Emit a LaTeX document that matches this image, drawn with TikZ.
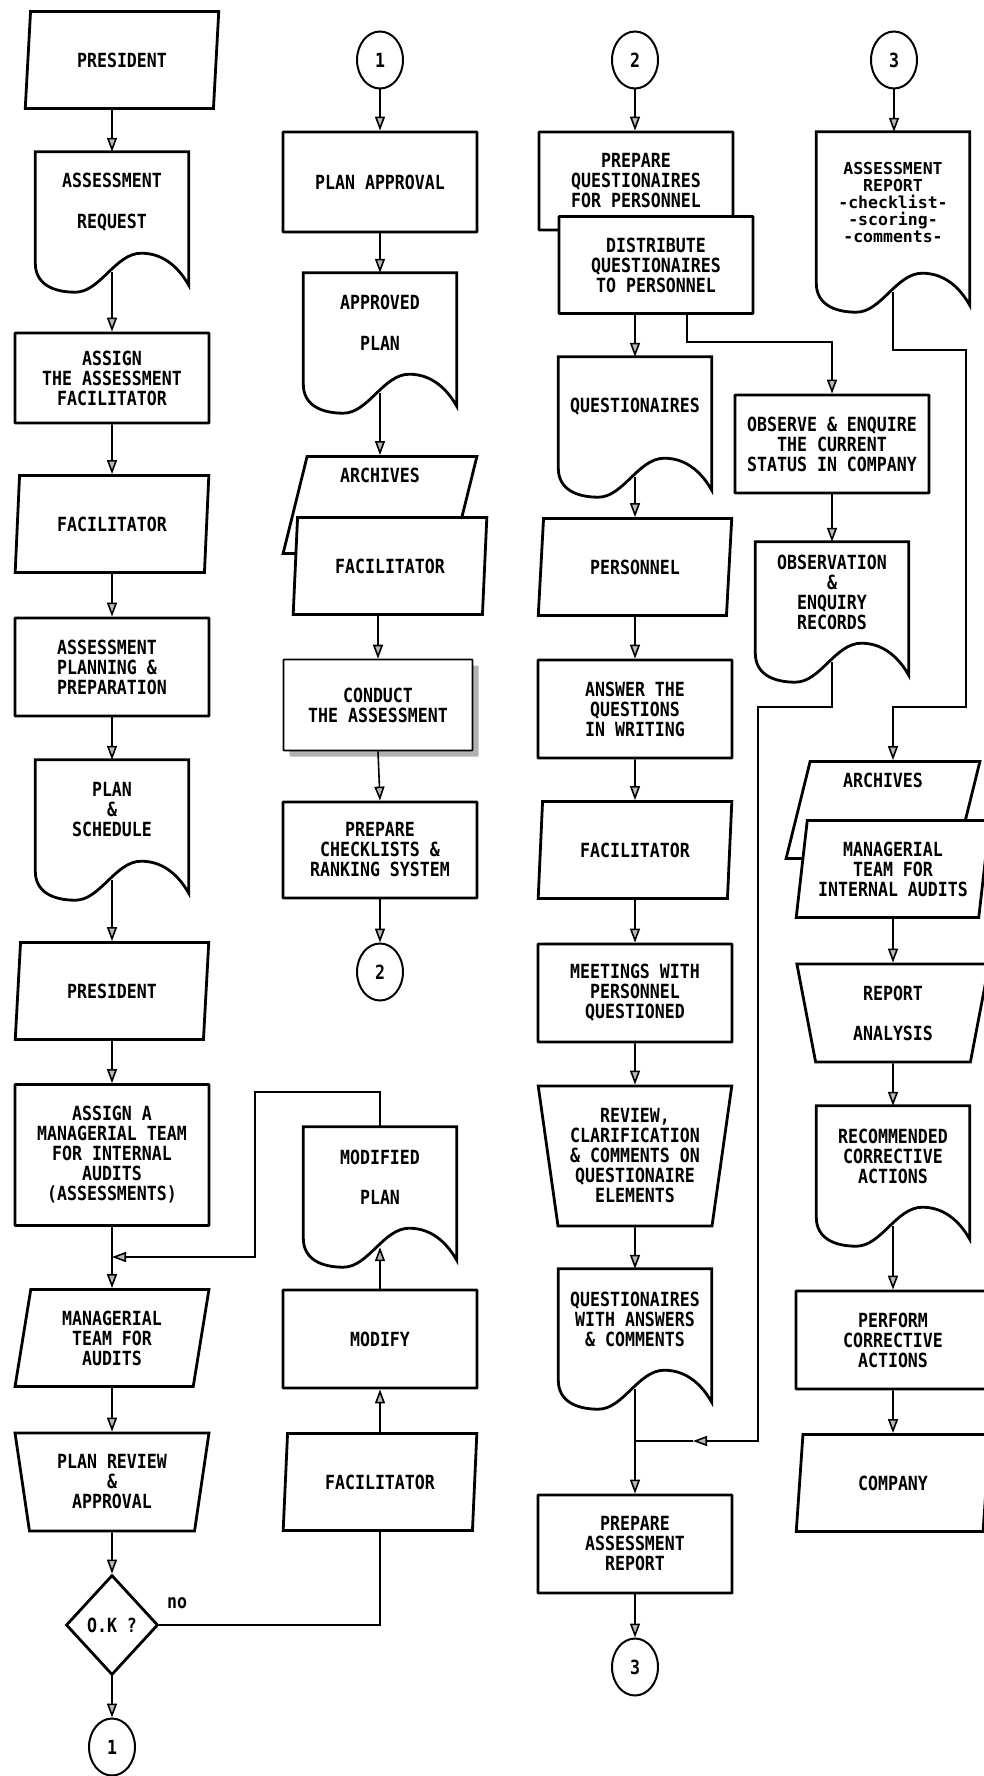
\documentclass[tikz,border=0pt]{standalone}
\usepackage{fontspec}
\newfontfamily\flowfont[FakeStretch=0.85]{DejaVu Sans Mono}
\newfontfamily\reportfont[FakeStretch=1.0]{DejaVu Sans Mono}
\usetikzlibrary{shapes.geometric,arrows.meta,calc,shadows}

\tikzset{
  shapeline/.style={draw=black, line width=2.8pt, fill=white},
  flowtext/.style={font=\flowfont\bfseries\fontsize{19.5}{20}\selectfont, align=center},
  procbox/.style={shapeline, flowtext, rectangle, rounded corners=0.5pt, minimum width=194pt, minimum height=98pt,
    inner sep=0pt, line width=2.8pt},
  iobox/.style={shapeline, flowtext, trapezium, trapezium left angle=80, trapezium right angle=100,
    trapezium stretches=true, minimum width=194pt, minimum height=97pt, inner sep=0pt},
  manbox/.style={shapeline, flowtext, trapezium, trapezium left angle=100, trapezium right angle=100,
    trapezium stretches=true, minimum width=194pt, minimum height=98pt, inner sep=0pt},
  docbox/.style={flowtext, rectangle, minimum width=153pt, minimum height=100pt, inner sep=0pt},
  linkcircle/.style={draw, line width=2pt, ellipse, minimum width=46pt, minimum height=57pt,
    inner sep=0pt, flowtext},
  decision/.style={shapeline, diamond, minimum width=92pt, minimum height=100pt, inner sep=0pt, flowtext},
  flow/.style={line width=1.6pt},
  arr/.style={flow, -{Triangle[length=14pt, width=10pt, fill=gray!55]}},
}
\newcommand{\docframe}[1]{%
  \draw[shapeline, fill=none] (#1.north west) -- (#1.north east) -- ($(#1.south east)+(0,33)$)
    .. controls ($(#1.south west)+(145,18)$) and ($(#1.south west)+(130,1)$) .. ($(#1.south west)+(106,1)$)
    .. controls ($(#1.south west)+(80,1)$) and ($(#1.south west)+(65,40)$) .. ($(#1.south west)+(40,40)$)
    .. controls ($(#1.south west)+(18,40)$) and ($(#1.south west)+(0,32)$) .. ($(#1.south west)+(0,11)$) -- cycle;
  \coordinate (#1-out) at ($(#1.south)+(0,20)$);}

\begin{document}
\begin{tikzpicture}[x=1pt, y=-1pt]
    \useasboundingbox (0,0) rectangle (984,1776);

    \node[iobox] (pres1) at (122,60) {PRESIDENT};
    \node[docbox] (req) at (112,202) {ASSESSMENT\\[21pt]REQUEST};
    \docframe{req}
    \node[procbox, minimum height=90pt] (assign1) at (112,378) {ASSIGN\\THE ASSESSMENT\\FACILITATOR};
    \node[iobox] (fac1) at (112,524) {FACILITATOR};
    \node[procbox, align=left] (plan1) at (112,667) {ASSESSMENT\\PLANNING \&\\PREPARATION};
    \node[docbox] (sched) at (112,810) {PLAN\\\&\\SCHEDULE};
    \docframe{sched}
    \node[iobox] (pres2) at (112,991) {PRESIDENT};
    \node[procbox, minimum height=141pt] (assign2) at (112,1155) {ASSIGN A\\MANAGERIAL TEAM\\FOR INTERNAL\\AUDITS\\(ASSESSMENTS)};
    \node[iobox] (mteam) at (112,1338) {MANAGERIAL\\TEAM FOR\\AUDITS};
    \node[manbox] (review) at (112,1482) {PLAN REVIEW\\\&\\APPROVAL};
    \node[decision] (ok) at (112,1625) {O.K ?};
    \node[linkcircle] (con1b) at (112,1747) {1};
    \node[flowtext] (nolbl) at (177,1603) {no};

    \node[linkcircle] (con1a) at (380,60) {1};
    \node[procbox, minimum height=100pt] (approval) at (380,182) {PLAN APPROVAL};
    \node[docbox] (approved) at (380,323) {APPROVED\\[21pt]PLAN};
    \docframe{approved}
    \node[iobox] (archives1) at (380,505) {ARCHIVES\\[40pt]};
    \node[iobox] (fac2) at (390,566) {FACILITATOR};
    \node[procbox, minimum width=189pt, minimum height=91pt, line width=1.6pt,
      drop shadow={shadow xshift=6pt, shadow yshift=-6pt, fill=gray!60, opacity=1}] (conduct) at (378,705) {CONDUCT\\THE ASSESSMENT};
    \node[procbox, minimum height=96pt] (checklist) at (380,850) {PREPARE\\CHECKLISTS \&\\RANKING SYSTEM};
    \node[linkcircle] (con2b) at (380,972) {2};
    \node[docbox] (modplan) at (380,1177) {MODIFIED\\[20pt]PLAN};
    \docframe{modplan}
    \node[procbox] (modify) at (380,1339) {MODIFY};
    \node[iobox] (fac3) at (380,1482) {FACILITATOR};

    \node[linkcircle] (con2a) at (635,60) {2};
    \node[procbox] (prepq) at (636,181) {PREPARE\\QUESTIONAIRES\\FOR PERSONNEL};
    \node[procbox, minimum height=97pt] (distq) at (656,265) {DISTRIBUTE\\QUESTIONAIRES\\TO PERSONNEL};
    \node[docbox] (quest) at (635,407) {QUESTIONAIRES};
    \docframe{quest}
    \node[iobox] (pers) at (635,567) {PERSONNEL};
    \node[procbox] (answer) at (635,709) {ANSWER THE\\QUESTIONS\\IN WRITING};
    \node[iobox] (fac4) at (635,850) {FACILITATOR};
    \node[procbox] (meet) at (635,993) {MEETINGS WITH\\PERSONNEL\\QUESTIONED};
    \node[manbox, minimum height=140pt] (reviewq) at (635,1156) {REVIEW,\\CLARIFICATION\\\& COMMENTS ON\\QUESTIONAIRE\\ELEMENTS};
    \node[docbox] (qans) at (635,1319) {QUESTIONAIRES\\WITH ANSWERS\\\& COMMENTS};
    \docframe{qans}
    \node[procbox] (prepr) at (635,1544) {PREPARE\\ASSESSMENT\\REPORT};
    \node[linkcircle] (con3b) at (635,1667) {3};

    \node[procbox] (observe) at (832,444) {OBSERVE \& ENQUIRE\\THE CURRENT\\STATUS IN COMPANY};
    \node[docbox] (records) at (832,592) {OBSERVATION\\\&\\ENQUIRY\\RECORDS};
    \docframe{records}

    \node[linkcircle] (con3a) at (894,60) {3};
    \node[docbox, minimum height=140pt, font=\reportfont\bfseries\fontsize{16.5}{17}\selectfont] (areport) at (893,202) {ASSESSMENT\\REPORT\\-checklist-\\-scoring-\\-comments-};
    \docframe{areport}
    \node[iobox] (archives2) at (883,810) {ARCHIVES\\[40pt]};
    \node[iobox] (mtia) at (893,869) {MANAGERIAL\\TEAM FOR\\INTERNAL AUDITS};
    \node[manbox] (ranal) at (893,1013) {REPORT\\[20pt]ANALYSIS};
    \node[docbox] (recomm) at (893,1156) {RECOMMENDED\\CORRECTIVE\\ACTIONS};
    \docframe{recomm}
    \node[procbox] (perform) at (893,1340) {PERFORM\\CORRECTIVE\\ACTIONS};
    \node[iobox] (company) at (893,1483) {COMPANY};

    \draw[arr] (pres1.south -| req.north) -- (req.north);
    \draw[arr] (req-out) -- (assign1.north);
    \draw[arr] (assign1.south) -- (fac1.north);
    \draw[arr] (fac1.south) -- (plan1.north);
    \draw[arr] (plan1.south) -- (sched.north);
    \draw[arr] (sched-out) -- (pres2.north);
    \draw[arr] (pres2.south) -- (assign2.north);
    \draw[arr] (assign2.south) -- (mteam.north);
    \draw[arr] (mteam.south) -- (review.north);
    \draw[arr] (review.south) -- (ok.north);
    \draw[arr] (ok.south) -- (con1b.north);
    \draw[flow] (ok.east) -| (fac3.south);
    \draw[arr] (fac3.north) -- (modify.south);
    \draw[arr] (modify.north) -- (modplan-out);
    \coordinate (bend1) at (255,1092);
    \coordinate (join1) at (112,1257);
    \draw[arr] (modplan.north) |- (bend1) |- (join1);

    \draw[arr] (con1a.south) -- (approval.north);
    \draw[arr] (approval.south) -- (approved.north);
    \draw[arr] (approved-out) -- (archives1.north);
    \draw[arr] (fac2.south -| conduct.north) -- (conduct.north);
    \draw[arr] (conduct.south) -- (checklist.north);
    \draw[arr] (checklist.south) -- (con2b.north);

    \draw[arr] (con2a.south) -- (prepq.north -| con2a.south);
    \draw[arr] (distq.south -| quest.north) -- (quest.north);
    \coordinate (bend2) at (687,342);
    \draw[arr] (distq.south -| bend2) -- (bend2) -| (observe.north);
    \draw[arr] (quest-out) -- (pers.north);
    \draw[arr] (pers.south) -- (answer.north);
    \draw[arr] (answer.south) -- (fac4.north);
    \draw[arr] (fac4.south) -- (meet.north);
    \draw[arr] (meet.south) -- (reviewq.north);
    \draw[arr] (reviewq.south) -- (qans.north);
    \draw[arr] (qans-out) -- (prepr.north);
    \draw[arr] (prepr.south) -- (con3b.north);
    \draw[arr] (observe.south) -- (records.north);
    \coordinate (bend3) at (758,707);
    \coordinate (tip3) at (693,1441);
    \coordinate (join3) at (635,1441);
    \draw[arr] (records-out) |- (bend3) |- (tip3);
    \draw[flow] (tip3) -- (join3);

    \draw[arr] (con3a.south) -- (areport.north -| con3a.south);
    \coordinate (bend4) at (966,350);
    \coordinate (bend5) at (893,707);
    \draw[arr] (areport-out) |- (bend4) |- (bend5) -- (archives2.north -| bend5);
    \draw[arr] (mtia.south) -- (ranal.north);
    \draw[arr] (ranal.south) -- (recomm.north);
    \draw[arr] (recomm-out) -- (perform.north);
    \draw[arr] (perform.south) -- (company.north);
\end{tikzpicture}
\end{document}
